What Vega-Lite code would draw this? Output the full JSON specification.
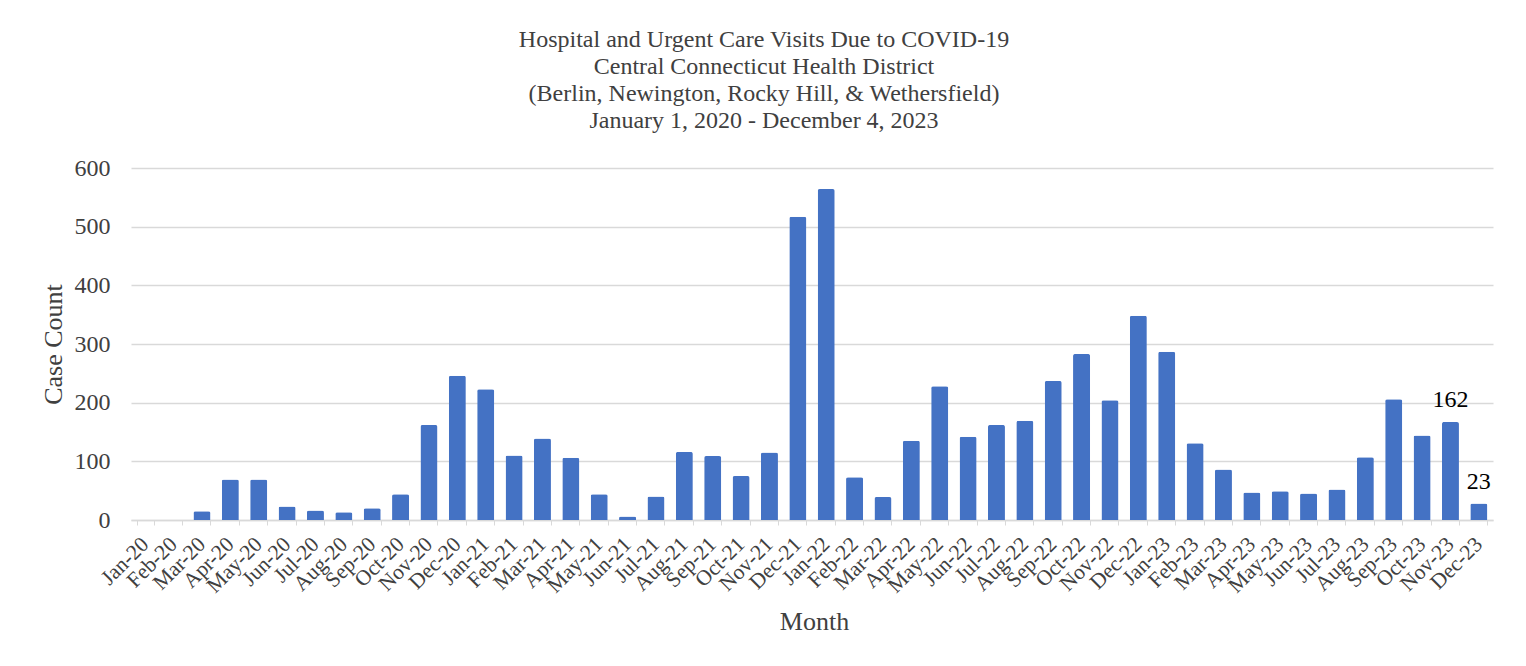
{
  "$schema": "https://vega.github.io/schema/vega-lite/v6.json",
  "width": 1362,
  "height": 352,
  "autosize": {"type": "none"},
  "padding": {"left": 131, "top": 168, "right": 33, "bottom": 146},
  "background": "white",
  "title": {
    "text": ["Hospital and Urgent Care Visits Due to COVID-19", "Central Connecticut Health District", "(Berlin, Newington, Rocky Hill, & Wethersfield)", "January 1, 2020 - December 4, 2023"],
    "anchor": "middle",
    "dx": -48,
    "font": "Liberation Serif",
    "fontSize": 24,
    "fontWeight": "normal",
    "color": "#404040",
    "lineHeight": 27,
    "baseline": "alphabetic",
    "offset": 4
  },
  "data": {
    "values": [
      {"month": "Jan-20", "count": 0},
      {"month": "Feb-20", "count": 0},
      {"month": "Mar-20", "count": 15},
      {"month": "Apr-20", "count": 69},
      {"month": "May-20", "count": 69},
      {"month": "Jun-20", "count": 23},
      {"month": "Jul-20", "count": 16},
      {"month": "Aug-20", "count": 13},
      {"month": "Sep-20", "count": 20},
      {"month": "Oct-20", "count": 44},
      {"month": "Nov-20", "count": 162},
      {"month": "Dec-20", "count": 246},
      {"month": "Jan-21", "count": 223},
      {"month": "Feb-21", "count": 110},
      {"month": "Mar-21", "count": 139},
      {"month": "Apr-21", "count": 106},
      {"month": "May-21", "count": 44},
      {"month": "Jun-21", "count": 6},
      {"month": "Jul-21", "count": 40},
      {"month": "Aug-21", "count": 116},
      {"month": "Sep-21", "count": 109},
      {"month": "Oct-21", "count": 75},
      {"month": "Nov-21", "count": 115},
      {"month": "Dec-21", "count": 517},
      {"month": "Jan-22", "count": 564},
      {"month": "Feb-22", "count": 73},
      {"month": "Mar-22", "count": 39},
      {"month": "Apr-22", "count": 135},
      {"month": "May-22", "count": 228},
      {"month": "Jun-22", "count": 142},
      {"month": "Jul-22", "count": 162},
      {"month": "Aug-22", "count": 169},
      {"month": "Sep-22", "count": 237},
      {"month": "Oct-22", "count": 283},
      {"month": "Nov-22", "count": 204},
      {"month": "Dec-22", "count": 348},
      {"month": "Jan-23", "count": 287},
      {"month": "Feb-23", "count": 131},
      {"month": "Mar-23", "count": 86},
      {"month": "Apr-23", "count": 47},
      {"month": "May-23", "count": 49},
      {"month": "Jun-23", "count": 45},
      {"month": "Jul-23", "count": 52},
      {"month": "Aug-23", "count": 107},
      {"month": "Sep-23", "count": 206},
      {"month": "Oct-23", "count": 144},
      {"month": "Nov-23", "count": 167, "label": "162"},
      {"month": "Dec-23", "count": 28, "label": "23"}
    ]
  },
  "encoding": {
    "x": {
      "field": "month",
      "type": "nominal",
      "sort": null,
      "scale": {"paddingInner": 0.4, "paddingOuter": 0.2},
      "axis": {
        "title": "Month",
        "titleFont": "Liberation Serif",
        "titleFontSize": 26,
        "titleFontWeight": "normal",
        "titleColor": "#404040",
        "titleX": 683,
        "titleY": 101,
        "titleBaseline": "middle",
        "labelFont": "Liberation Serif",
        "labelFontSize": 21.5,
        "labelColor": "#404040",
        "labelAngle": -45,
        "labelAlign": "right",
        "labelBaseline": "middle",
        "labelOffset": 0,
        "labelPadding": 16,
        "labelOverlap": false,
        "tickBand": "extent",
        "tickColor": "#d9d9d9",
        "tickSize": 5,
        "domainColor": "#d9d9d9",
        "domainWidth": 1.5,
        "grid": false
      }
    },
    "y": {
      "field": "count",
      "type": "quantitative",
      "scale": {"domain": [0, 600]},
      "axis": {
        "title": "Case Count",
        "titleFont": "Liberation Serif",
        "titleFontSize": 26,
        "titleFontWeight": "normal",
        "titleColor": "#404040",
        "titleX": -78,
        "titleY": 176,
        "titleAngle": -90,
        "titleAlign": "center",
        "titleBaseline": "middle",
        "values": [0, 100, 200, 300, 400, 500, 600],
        "labelFont": "Liberation Serif",
        "labelFontSize": 24,
        "labelColor": "#404040",
        "labelPadding": 21,
        "ticks": false,
        "domain": false,
        "grid": true,
        "gridColor": "#d9d9d9",
        "gridWidth": 1.5
      }
    }
  },
  "layer": [
    {
      "mark": {"type": "bar", "color": "#4472C4", "cornerRadiusEnd": 2}
    },
    {
      "transform": [{"filter": "datum.label != null"}],
      "mark": {"type": "text", "font": "Liberation Serif", "fontSize": 24, "color": "#000000", "baseline": "alphabetic", "dy": -15},
      "encoding": {"text": {"field": "label"}}
    }
  ],
  "config": {
    "view": {"stroke": null}
  }
}
